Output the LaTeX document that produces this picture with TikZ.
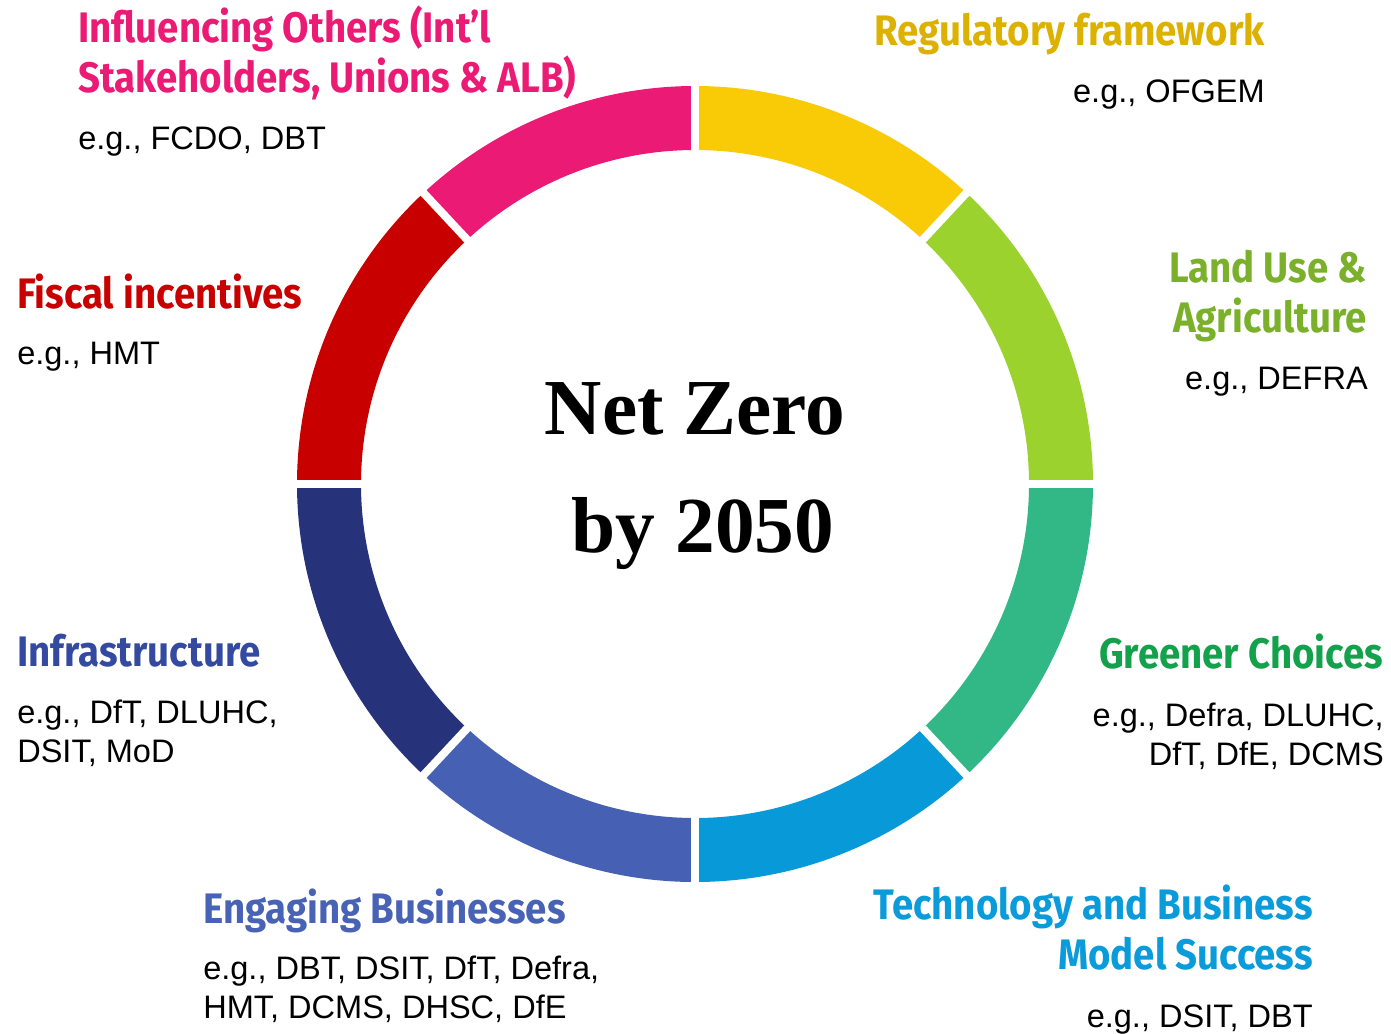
\documentclass[tikz,border=0pt]{standalone}
\usepackage{fontspec}
\setmainfont{Liberation Sans}
\newfontfamily\labelfont[FakeStretch=0.90]{Fira Sans}
\newfontfamily\centerfont{Liberation Serif}
\definecolor{cYellow}{HTML}{F9CB07}
\definecolor{cLime}{HTML}{9BD22E}
\definecolor{cTeal}{HTML}{31B886}
\definecolor{cBlue}{HTML}{0899D8}
\definecolor{cPeri}{HTML}{4661B4}
\definecolor{cNavy}{HTML}{26337A}
\definecolor{cRed}{HTML}{C80000}
\definecolor{cPink}{HTML}{EB1A74}
\definecolor{tYellow}{HTML}{DDB100}
\definecolor{tLime}{HTML}{7AB02A}
\definecolor{tGreen}{HTML}{13A24B}
\definecolor{tBlue}{HTML}{0A9BDA}
\definecolor{tPeri}{HTML}{4862B6}
\definecolor{tNavy}{HTML}{3449A0}
\definecolor{tRed}{HTML}{C80000}
\definecolor{tPink}{HTML}{EB1A74}
\begin{document}
\begin{tikzpicture}[x=0.75pt,y=-0.75pt,
  title/.style={inner sep=0pt, font=\labelfont\bfseries\fontsize{32pt}{37.5pt}\selectfont},
  example/.style={inner sep=0pt, font=\fontsize{24.4pt}{29.25pt}\selectfont}]
\useasboundingbox (0,0) rectangle (1391,1033);
\fill[white] (0,0) rectangle (1391,1033);
\coordinate (c) at (695,484);
\begin{scope}[shift={(c)}]
  \foreach \a/\b/\col in {90/47/cYellow,47/0/cLime,0/-47/cTeal,-47/-90/cBlue,-90/-133/cPeri,-133/-180/cNavy,180/133/cRed,133/90/cPink}{
    \fill[\col] (\a:298.5pt) arc[start angle=\a, end angle=\b, radius=298.5pt]
      -- (\b:250.5pt) arc[start angle=\b, end angle=\a, radius=250.5pt] -- cycle;
  }
  \foreach \a in {0,47,90,133,180,227,270,313}{
    \draw[white, line width=6pt] (\a:240pt) -- (\a:310pt);
  }
\end{scope}
\node[font=\centerfont\bfseries\fontsize{59.5pt}{88pt}\selectfont, inner sep=0pt, align=center, anchor=base] (center) at (695,552) {Net Zero\\\hspace*{12pt}by 2050};

\node[title, text=tPink, anchor=base west, align=left] (t1) at (78,92) {Influencing Others (Int’l\\Stakeholders, Unions \& ALB)};
\node[example, anchor=base west] (e1) at (78,149) {e.g., FCDO, DBT};

\node[title, text=tYellow, anchor=base east] (t2) at (1265,45) {Regulatory framework};
\node[example, anchor=base east] (e2) at (1265,102) {e.g., OFGEM};

\node[title, text=tRed, anchor=base west] (t3) at (17,308) {Fiscal incentives};
\node[example, anchor=base west] (e3) at (17,364) {e.g., HMT};

\node[title, text=tLime, anchor=base east, align=right] (t4) at (1367,332) {Land Use \&\\Agriculture};
\node[example, anchor=base east] (e4) at (1368,389) {e.g., DEFRA};

\node[title, text=tNavy, anchor=base west] (t5) at (17,666) {Infrastructure};
\node[example, anchor=base west, align=left] (e5) at (17,762) {e.g., DfT, DLUHC,\\DSIT, MoD};

\node[title, text=tGreen, anchor=base east] (t6) at (1383,668) {Greener Choices};
\node[example, anchor=base east, align=right] (e6) at (1384,765) {e.g., Defra, DLUHC,\\DfT, DfE, DCMS};

\node[title, text=tPeri, anchor=base west] (t7) at (203,923) {Engaging Businesses};
\node[example, anchor=base west, align=left] (e7) at (203,1018) {e.g., DBT, DSIT, DfT, Defra,\\HMT, DCMS, DHSC, DfE};

\node[title, text=tBlue, anchor=base east, align=right] (t8) at (1313,969) {Technology and Business\\Model Success};
\node[example, anchor=base east] (e8) at (1313,1027) {e.g., DSIT, DBT};
\end{tikzpicture}
\end{document}
